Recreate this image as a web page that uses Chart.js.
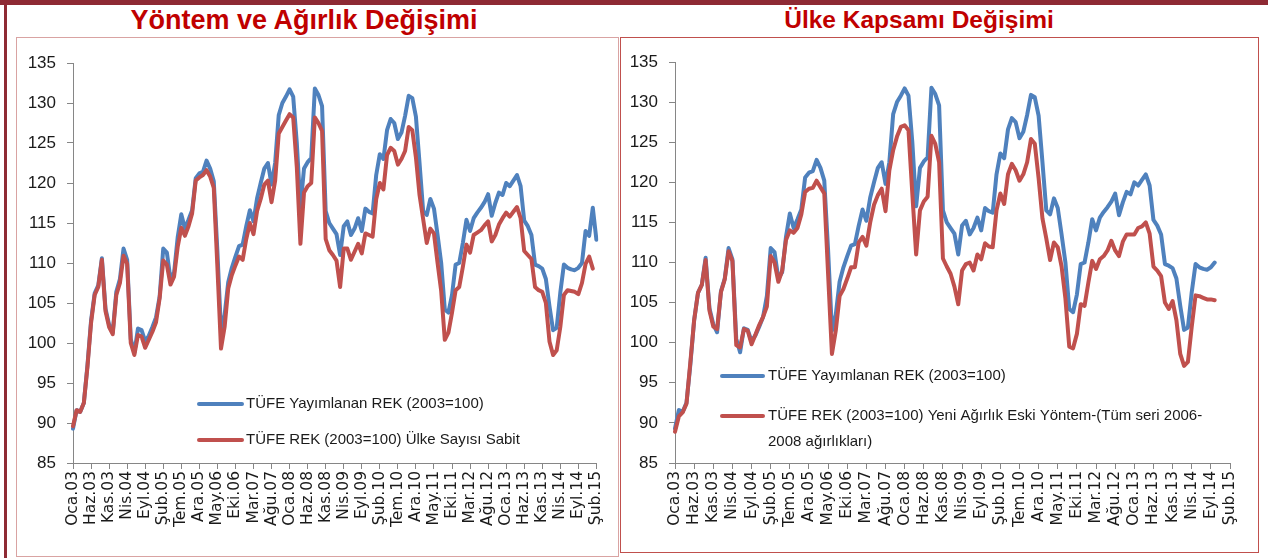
<!DOCTYPE html>
<html>
<head>
<meta charset="utf-8">
<script src="https://cdn.jsdelivr.net/npm/chart.js@4.4.1/dist/chart.umd.min.js"></script>
<style>
  body { margin: 0; background: #fff; width: 1268px; height: 558px; overflow: hidden; position: relative; font-family: "Liberation Sans", Arial, sans-serif; }
  .bar-top { position: absolute; left: 0; top: 0; width: 1268px; height: 5px; background: #8e2a34; }
  .bar-left { position: absolute; left: 4px; top: 0; width: 3px; height: 558px; background: #8e2a34; }
  .title { position: absolute; top: 4px; width: 600px; height: 32px; line-height: 32px; text-align: center; font-weight: bold; color: #c00000; }
  .box { position: absolute; box-sizing: border-box; }
  #boxL { left: 16px; top: 37px; width: 603px; height: 520px; border: 1px solid #d9a3a2; }
  #boxR { left: 620px; top: 37px; width: 639px; height: 516px; border: 1.5px solid #c0504d; }
  canvas { position: absolute; }
</style>
</head>
<body>
<div class="bar-top"></div>
<div class="bar-left"></div>
<div class="title" style="left:4px;font-size:27px">Yöntem ve Ağırlık Değişimi</div>
<div class="title" style="left:619px;font-size:24.5px">Ülke Kapsamı Değişimi</div>
<div class="box" id="boxL"></div>
<div class="box" id="boxR"></div>
<canvas id="chartL" width="600" height="516" style="left:17px;top:38px"></canvas>
<canvas id="chartR" width="636" height="513" style="left:621px;top:38px"></canvas>
<script>
// monthly categories Oca.03 .. Şub.15
const months = ['Oca', 'Şub', 'Mar', 'Nis', 'May', 'Haz', 'Tem', 'Ağu', 'Eyl', 'Eki', 'Kas', 'Ara'];
const years = ['03', '04', '05', '06', '07', '08', '09', '10', '11', '12', '13', '14', '15'];
const labels = [];
years.forEach(y => months.forEach(m => labels.push(m + '.' + y)));
labels.length = 146;

const yTicks = [85, 90, 95, 100, 105, 110, 115, 120, 125, 130, 135];

// TÜFE Yayımlanan REK (2003=100)
const published = [
  89.3, 91.6, 91.4, 92.5, 97.2, 102.8, 106.2, 107.2, 110.6, 104.3, 102.3, 101.3,
  106.4, 108.0, 111.8, 110.4, 100.5, 98.8, 101.8, 101.6, 100.2, 100.9, 102.0, 103.2,
  105.8, 111.8, 111.3, 108.0, 108.8, 113.2, 116.1, 114.3, 115.4, 116.6, 120.6, 121.2,
  121.4, 122.8, 121.8, 120.2, 111.5, 101.5, 103.5, 107.6, 109.4, 110.8, 112.1, 112.3,
  114.6, 116.6, 115.2, 118.1, 120.0, 121.8, 122.5, 119.8, 122.5, 128.5, 130.0, 130.8,
  131.7, 130.8, 125.0, 117.0, 121.8, 122.6, 123.1, 131.8, 131.0, 129.6, 116.5, 115.0,
  114.3, 113.6, 111.0, 114.6, 115.2, 113.5, 114.3, 115.6, 114.0, 116.8, 116.4, 116.2,
  121.0, 123.6, 123.0, 126.6, 128.0, 127.5, 125.5, 126.3, 128.4, 130.9, 130.6, 128.3,
  122.5, 116.5, 116.0, 118.0, 116.8, 113.5, 110.0, 104.2, 103.8, 106.0, 109.8, 110.0,
  112.5, 115.4, 114.0, 115.6, 116.3, 116.9, 117.6, 118.6, 115.9, 117.5, 118.8, 118.5,
  120.0, 119.6, 120.3, 121.0, 119.6, 115.3, 114.6, 113.5, 109.8, 109.6, 109.3, 108.0,
  104.6, 101.6, 101.9, 106.3, 109.8, 109.4, 109.2, 109.1, 109.4, 110.0, 114.0, 113.4,
  116.9, 112.9
];

// TÜFE REK (2003=100) Ülke Sayısı Sabit
const fixedCountries = [
  89.6, 91.6, 91.4, 92.5, 97.0, 102.5, 106.0, 107.0, 110.4, 104.0, 102.0, 101.1,
  106.0, 107.5, 110.9, 109.9, 100.0, 98.5, 101.0, 100.8, 99.4, 100.4, 101.4, 102.6,
  105.6, 110.3, 109.8, 107.3, 108.3, 112.0, 114.4, 113.4, 114.6, 116.2, 120.3, 120.7,
  121.0, 121.6, 120.8, 119.4, 109.5, 99.3, 102.0, 106.8, 108.5, 109.7, 110.8, 110.4,
  113.0, 115.0, 113.6, 116.5, 118.0, 119.8, 120.3, 117.6, 120.3, 126.2, 127.0, 127.8,
  128.6, 128.2, 122.0, 112.4, 118.8, 119.6, 120.0, 128.2, 127.5, 126.5, 113.0, 111.6,
  111.0, 110.3, 107.0, 111.8, 111.8, 110.4, 111.4, 112.4, 111.2, 113.7, 113.5, 113.3,
  118.0, 120.0, 119.2, 123.5, 124.4, 124.0, 122.3, 123.0, 124.0, 127.0, 126.6, 123.2,
  118.5, 115.5, 112.5, 114.3, 113.7, 110.0, 106.5, 100.4, 101.3, 103.8, 106.6, 107.0,
  109.5, 112.3, 111.3, 113.5, 113.8, 114.1, 114.7, 115.2, 112.7, 113.5, 114.8, 115.6,
  116.3, 115.8, 116.4, 117.0, 115.6, 111.5, 111.0, 110.5, 107.0, 106.6, 106.4, 105.0,
  100.2, 98.5, 99.1, 102.0, 106.0, 106.6, 106.5, 106.4, 106.1, 107.5, 109.9, 110.8,
  109.3
];

// TÜFE REK (2003=100) Yeni Ağırlık Eski Yöntem
const newWeights = [
  88.9, 90.8, 91.3, 92.4, 97.5, 102.8, 106.2, 107.2, 110.3, 104.0, 102.0, 101.7,
  106.3, 107.9, 111.4, 110.2, 99.7, 99.4, 101.7, 101.5, 99.8, 101.0, 102.2, 103.2,
  104.5, 110.8, 110.0, 107.6, 109.0, 112.8, 114.0, 113.7, 114.3, 116.0, 118.8, 119.2,
  119.3, 120.2, 119.4, 118.6, 108.5, 98.6, 101.5, 105.8, 106.7, 108.0, 109.4, 109.4,
  112.5, 113.2, 112.1, 115.0, 117.2, 118.4, 119.2, 116.4, 121.5, 124.0, 125.7, 126.9,
  127.1, 126.5, 118.6, 111.0, 116.5, 117.6, 118.2, 125.8, 124.8, 122.5, 110.5, 109.5,
  108.6, 107.0, 104.8, 109.0, 109.8, 110.0, 109.0, 111.0, 110.4, 112.4, 112.0, 111.9,
  116.5, 118.6, 117.3, 121.0, 122.3, 121.5, 120.2, 121.0, 122.5, 125.4, 124.8, 120.5,
  115.5, 113.0, 110.3, 112.5, 111.9, 109.5, 105.5, 99.5, 99.3, 101.1, 104.8, 104.6,
  107.5, 110.2, 109.2, 110.4, 110.8, 111.5, 112.7, 111.5, 110.8, 112.6, 113.5, 113.5,
  113.5, 114.3, 114.5, 115.0, 113.6, 109.5, 109.0, 108.3, 105.0, 104.2, 105.2, 102.8,
  98.6, 97.1, 97.6, 102.0, 105.9, 105.8, 105.6, 105.4, 105.4, 105.3
];

const BLUE = '#4f81bd';
const RED = '#c0504d';
const AXIS = '#868686';

const insideLegend = {
  id: 'insideLegend',
  afterDatasetsDraw(chart, args, opts) {
    const ctx = chart.ctx;
    ctx.save();
    ctx.font = '15px "Liberation Sans", Arial, sans-serif';
    ctx.textBaseline = 'middle';
    opts.items.forEach(it => {
      ctx.strokeStyle = it.color;
      ctx.lineWidth = 4;
      ctx.lineCap = 'round';
      ctx.beginPath();
      ctx.moveTo(opts.x0, it.y);
      ctx.lineTo(opts.x1, it.y);
      ctx.stroke();
      ctx.fillStyle = '#1a1a1a';
      it.lines.forEach((t, i) => ctx.fillText(t, opts.tx, it.y + i * 26));
    });
    ctx.restore();
  }
};

function makeChart(id, datasets, box, legend) {
  return new Chart(document.getElementById(id), {
    type: 'line',
    data: { labels: labels, datasets: datasets },
    plugins: [insideLegend],
    options: {
      responsive: false,
      animation: false,
      devicePixelRatio: 1,
      layout: { padding: { left: 0, top: box.top, right: box.right, bottom: 0 } },
      elements: {
        point: { radius: 0 },
        line: { borderWidth: 4, tension: 0, borderJoinStyle: 'round', borderCapStyle: 'round' }
      },
      plugins: {
        legend: { display: false },
        tooltip: { enabled: false },
        insideLegend: legend
      },
      scales: {
        x: {
          type: 'category',
          offset: false,
          afterFit: s => { s.height = box.xh; },
          border: { display: true, color: AXIS, width: 1 },
          grid: { drawOnChartArea: false, drawTicks: true, tickLength: 6, color: AXIS },
          ticks: {
            autoSkip: false,
            maxRotation: 90,
            minRotation: 90,
            padding: 2,
            color: '#1a1a1a',
            font: { family: '"DejaVu Sans", Verdana, sans-serif', size: 15.5 },
            callback: function (v, i) { return i % 5 === 0 ? labels[i] : null; }
          }
        },
        y: {
          min: 85,
          max: 135,
          afterFit: s => { s.width = box.yw; },
          afterBuildTicks: s => { s.ticks = yTicks.map(v => ({ value: v })); },
          border: { display: true, color: AXIS, width: 1 },
          grid: { drawOnChartArea: false, drawTicks: true, tickLength: 6, color: AXIS },
          ticks: {
            padding: 11,
            color: '#1a1a1a',
            font: { family: '"Liberation Sans", Arial, sans-serif', size: 17 }
          }
        }
      }
    }
  });
}

makeChart('chartL', [
  { label: 'TÜFE Yayımlanan REK (2003=100)', data: published, borderColor: BLUE, order: 2 },
  { label: 'TÜFE REK (2003=100) Ülke Sayısı Sabit', data: fixedCountries, borderColor: RED, order: 1 }
], { top: 25, right: 13, xh: 91, yw: 56 }, {
  x0: 182, x1: 225, tx: 229,
  items: [
    { color: BLUE, y: 366, lines: ['TÜFE Yayımlanan REK (2003=100)'] },
    { color: RED, y: 402, lines: ['TÜFE REK (2003=100) Ülke Sayısı Sabit'] }
  ]
});

makeChart('chartR', [
  { label: 'TÜFE Yayımlanan REK (2003=100)', data: published.slice(0, 142), borderColor: BLUE, order: 2 },
  { label: 'TÜFE REK (2003=100) Yeni Ağırlık Eski Yöntem-(Tüm seri 2006-2008 ağırlıkları)', data: newWeights, borderColor: RED, order: 1 }
], { top: 24, right: 27, xh: 88, yw: 54 }, {
  x0: 101, x1: 142, tx: 147,
  items: [
    { color: BLUE, y: 338, lines: ['TÜFE Yayımlanan REK (2003=100)'] },
    { color: RED, y: 378, lines: ['TÜFE REK (2003=100) Yeni Ağırlık Eski Yöntem-(Tüm seri 2006-', '2008 ağırlıkları)'] }
  ]
});
</script>
</body>
</html>
